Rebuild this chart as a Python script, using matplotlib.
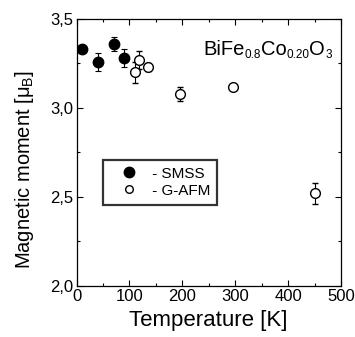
import matplotlib.pyplot as plt
from matplotlib.lines import Line2D
from matplotlib.ticker import MultipleLocator, FuncFormatter
from matplotlib.transforms import IdentityTransform

plt.rcParams['font.family'] = ['Liberation Sans', 'DejaVu Sans']
plt.rcParams['mathtext.fontset'] = 'custom'
plt.rcParams['mathtext.rm'] = 'Liberation Sans'
plt.rcParams['mathtext.it'] = 'Liberation Sans'

# SMSS phase
T_smss = [10, 40, 70, 90]
m_smss = [3.33, 3.26, 3.36, 3.28]
e_smss = [0.02, 0.05, 0.04, 0.05]

# G-AFM phase
T_gafm = [110, 118, 135, 195, 295, 450]
m_gafm = [3.20, 3.27, 3.23, 3.08, 3.12, 2.52]
e_gafm = [0.06, 0.05, 0.02, 0.04, 0.015, 0.06]

# compound name, split into (text, is_subscript)
formula = [('BiFe', False), ('0.8', True), ('Co', False), ('0.20', True),
           ('O', False), ('3', True)]

fig = plt.figure(figsize=(3.55, 3.37), dpi=100)
ax = fig.add_axes([0.2155, 0.152, 0.745, 0.7916])

ax.errorbar(T_smss, m_smss, yerr=e_smss, fmt='o', color='black', ms=7.5,
            capsize=2, elinewidth=0.8, capthick=0.8, zorder=3)
ax.errorbar(T_gafm, m_gafm, yerr=e_gafm, fmt='o', color='black', mfc='white',
            mew=1.0, ms=7, capsize=2, elinewidth=0.8, capthick=0.8, zorder=3)

ax.set_xlim(0, 500)
ax.set_ylim(2.0, 3.5)
ax.xaxis.set_major_locator(MultipleLocator(100))
ax.xaxis.set_minor_locator(MultipleLocator(50))
ax.yaxis.set_major_locator(MultipleLocator(0.5))
ax.yaxis.set_minor_locator(MultipleLocator(0.25))
ax.yaxis.set_major_formatter(FuncFormatter(lambda v, p: ('%.1f' % v).replace('.', ',')))
ax.tick_params(which='both', direction='in', top=True, right=True, labelsize=12, width=0.8)
ax.tick_params(which='major', length=4, pad=2)
ax.tick_params(which='minor', length=2.5)
for s in ax.spines.values():
    s.set_linewidth(0.9)

ax.set_xlabel('Temperature [K]', fontsize=16, labelpad=5)
ax.set_ylabel(r'Magnetic moment [$\mu_{\mathrm{B}}$]', fontsize=14.5)
ax.yaxis.set_label_coords(-0.155, 0.436)

# formula written piece by piece so the subscripts can be small
renderer = fig.canvas.get_renderer()
x_pix, y_base = 203, 337 - 55
for txt, sub in formula:
    t = fig.text(x_pix, y_base - (3 if sub else 0), txt, transform=IdentityTransform(),
                 fontsize=8.5 if sub else 14.5, ha='left', va='baseline')
    x_pix = t.get_window_extent(renderer).x1

handles = [Line2D([], [], ls='none', marker='o', color='black', ms=7.5),
           Line2D([], [], ls='none', marker='o', color='black', mfc='white', ms=5.5, mew=1.0)]
leg = ax.legend(handles, [' - SMSS', ' - G-AFM'], loc='upper left',
                bbox_to_anchor=(0.10, 0.472), borderaxespad=0, frameon=True,
                fancybox=False, edgecolor='black', fontsize=11, handletextpad=0.0,
                borderpad=0.45, labelspacing=0.2, handlelength=2.5)
leg.get_frame().set_linewidth(1.6)

fig.savefig('out.png', dpi=100)
